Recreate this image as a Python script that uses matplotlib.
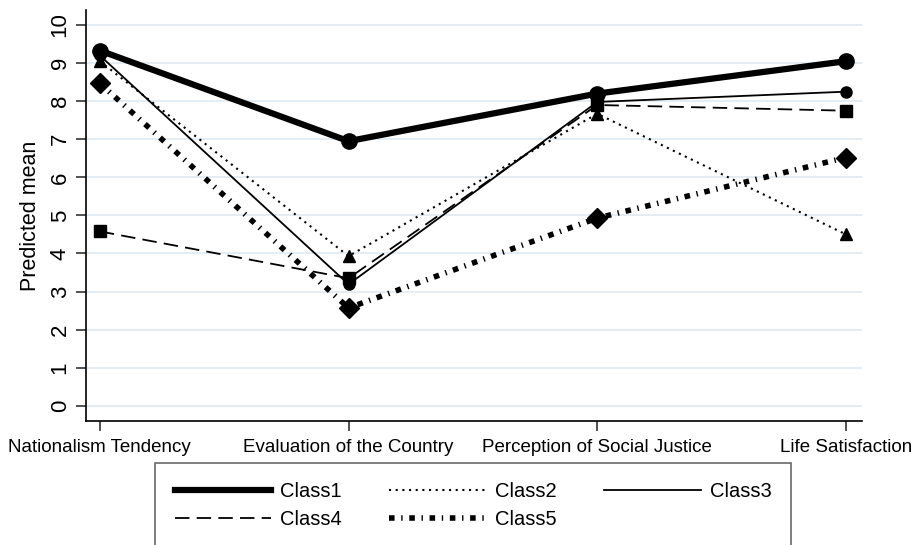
import matplotlib
matplotlib.use("Agg")
import matplotlib.pyplot as plt
from matplotlib.lines import Line2D

plt.rcParams['font.family'] = ['Liberation Sans', 'DejaVu Sans']

categories = ["Nationalism Tendency", "Evaluation of the Country",
              "Perception of Social Justice", "Life Satisfaction"]
class1 = [9.33, 6.95, 8.20, 9.05]
class2 = [9.05, 3.93, 7.67, 4.50]
class3 = [9.20, 3.19, 7.98, 8.25]
class4 = [4.58, 3.35, 7.90, 7.75]
class5 = [8.47, 2.57, 4.93, 6.52]
yticks = list(range(0, 11))

fig = plt.figure(figsize=(9.14, 5.45), dpi=100)
ax = fig.add_axes([0.094, 0.2275, 0.849, 0.7545])

x = list(range(len(categories)))
styles = [
    dict(data=class1, label="Class1", lw=4.5, ls='-', marker='o', ms=11),
    dict(data=class2, label="Class2", lw=1.5, ls=(0, (1, 2.2)), marker='^', ms=8),
    dict(data=class3, label="Class3", lw=1.3, ls='-', marker='o', ms=8),
    dict(data=class4, label="Class4", lw=1.3, ls=(0, (8, 4)), marker='s', ms=8),
    dict(data=class5, label="Class5", lw=4.0, ls=(0, (1.0, 1.2, 0.25, 1.2)), marker='D', ms=10),
]
handles = {}
for s in styles:
    ax.plot(x, s['data'], color='black', lw=s['lw'], ls=s['ls'],
            marker=s['marker'], ms=s['ms'], mfc='black', mec='black', zorder=3)
    handles[s['label']] = Line2D([], [], color='black', lw=s['lw'], ls=s['ls'], label=s['label'])

ax.set_xlim(-0.056, 3.064)
ax.set_ylim(-0.4, 10.4)
ax.set_yticks(yticks)
ax.set_yticklabels([str(t) for t in yticks], rotation=90, va='center', fontsize=16)
ax.set_xticks(x)
ax.set_xticklabels(categories, fontsize=13.5)
ax.set_ylabel("Predicted mean", fontsize=15.5, labelpad=6)
ax.yaxis.grid(True, color='#e3ecf2', lw=1.3)
ax.set_axisbelow(True)
for sp in ['top', 'right']:
    ax.spines[sp].set_visible(False)
ax.spines['left'].set_linewidth(1.2)
ax.spines['bottom'].set_linewidth(1.2)
ax.tick_params(axis='both', length=7, width=1.2, color='#333333')
ax.tick_params(axis='y', pad=4)
ax.tick_params(axis='x', pad=6)

order = ["Class1", "Class4", "Class2", "Class5", "Class3"]
leg = fig.legend(handles=[handles[k] for k in order], ncol=3, loc='upper left',
                 bbox_to_anchor=(0.17, -0.2, 0.695, 0.3505), mode='expand',
                 fontsize=14.5, handlelength=4.8, frameon=True, fancybox=False,
                 edgecolor='#444444', borderpad=0.95, labelspacing=0.45,
                 handletextpad=0.45, columnspacing=1.5, borderaxespad=0)
leg.get_frame().set_linewidth(1.2)

fig.savefig("out.png", dpi=100)
